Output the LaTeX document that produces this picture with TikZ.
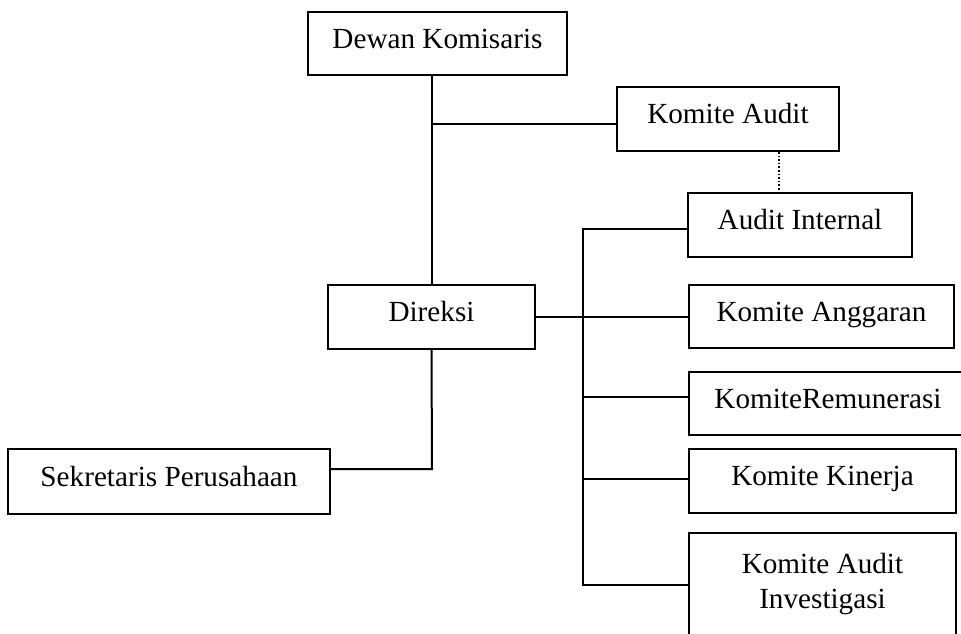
\documentclass[tikz,border=0pt]{standalone}
\usepackage{fontspec}
\setmainfont{Liberation Serif}
\begin{document}
\begin{tikzpicture}[x=1pt,y=-1pt,
  box/.style={draw,line width=2pt,rectangle,inner sep=0pt,
    font=\fontsize{29.2pt}{35pt}\selectfont,text height=20pt,text depth=11pt},
  box2/.style={draw,line width=2pt,rectangle,inner sep=0pt,align=center,
    font=\fontsize{29.2pt}{35pt}\selectfont},
  conn/.style={line width=2pt},
  dotconn/.style={line width=1.6pt,dash pattern=on 1.6pt off 2pt}]
\clip (0,0) rectangle (961,633);
\fill[white] (0,0) rectangle (961,633);
\node[box,minimum width=259pt,minimum height=63pt] (dk) at (437.5,43.5) {Dewan Komisaris};
\node[box,minimum width=222pt,minimum height=64pt] (ka) at (728,119) {Komite Audit};
\node[box,minimum width=224pt,minimum height=64pt] (ai) at (800,225) {Audit Internal};
\node[box,minimum width=207pt,minimum height=64pt] (dir) at (431.5,317) {Direksi};
\node[box,minimum width=265pt,minimum height=63pt] (kang) at (821.5,316.5) {Komite Anggaran};
\node[box,minimum width=278pt,minimum height=63pt] (krem) at (828,403.5) {KomiteRemunerasi};
\node[box,minimum width=267pt,minimum height=64pt] (kkin) at (822.5,481) {Komite Kinerja};
\node[box2,minimum width=267pt,minimum height=108pt] (kai) at (822.5,587) {Komite Audit\\Investigasi\rule[-13pt]{0pt}{0pt}};
\node[box,minimum width=322pt,minimum height=65pt] (sp) at (169,481.5) {Sekretaris Perusahaan};
% Dewan Komisaris to Direksi
\draw[conn] (dir.north) -- (dir.north |- dk.south);
\coordinate (j1) at (432,124);
\draw[conn] (j1) -- (j1 -| ka.west);
% dotted Komite Audit - Audit Internal
\draw[dotconn] ([xshift=51pt]ka.south) -- ([xshift=51pt]ka.south |- ai.north);
% Direksi to committees
\coordinate (bt) at (583,229);
\coordinate (bb) at (583,585);
\draw[conn] (bt -| ai.west) -- (bt) -- (bb) -- (bb -| kai.west);
\draw[conn] (dir.east) -- (dir.east -| kang.west);
\coordinate (b3) at (583,397);
\coordinate (b4) at (583,479);
\draw[conn] (b3) -- (b3 -| krem.west);
\draw[conn] (b4) -- (b4 -| kkin.west);
% Direksi to Sekretaris
\coordinate (j2) at (432,469);
\draw[conn] (dir.south) -- (j2) -- (j2 -| sp.east);
\end{tikzpicture}
\end{document}
